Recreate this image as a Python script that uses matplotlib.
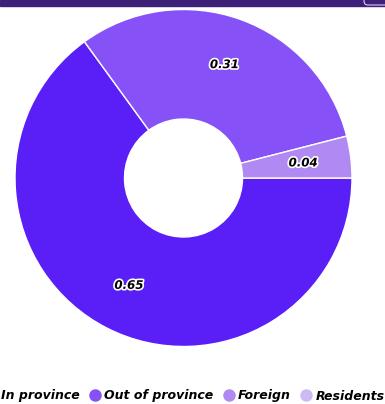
import numpy as np
import matplotlib.pyplot as plt
import matplotlib.patheffects as pe
from matplotlib.lines import Line2D
from matplotlib.patches import Rectangle, FancyBboxPatch

categories = ["In province", "Out of province", "Foreign", "Residents"]
shares = [0.65, 0.31, 0.04, 0.0]
colors = ["#5a1ff6", "#8652f7", "#b08af2", "#cdbaf5"]

W, H = 385, 404
fig = plt.figure(figsize=(W / 100, H / 100), dpi=100)

# top header strip
fig.patches.append(Rectangle((0, 1 - 6 / H), 1, 6 / H, transform=fig.transFigure,
                             color="#3d2178", zorder=0))
fig.patches.append(FancyBboxPatch((364 / W, 1 - 5 / H), 30 / W, 10 / H,
                                  boxstyle="round,pad=0,rounding_size=0.01",
                                  transform=fig.transFigure, facecolor="none",
                                  edgecolor="#d8cdf0", lw=0.8, zorder=1))

cx, cy, r = 183.5, 178, 168.5
ax = fig.add_axes([(cx - r) / W, (H - cy - r) / H, 2 * r / W, 2 * r / H])

vals = [v for v in shares if v > 0]
cols = [c for v, c in zip(shares, colors) if v > 0]
wedges, _ = ax.pie(vals, colors=cols, startangle=0, counterclock=False, radius=1,
                   wedgeprops=dict(width=1 - 59 / r, edgecolor="white", linewidth=1))

# value labels
start = 0.0
for v in vals:
    mid = np.deg2rad(-(start + v / 2) * 360)
    start += v
    ax.text(0.715 * np.cos(mid), 0.715 * np.sin(mid), f"{v:.2f}", ha="center", va="center",
            fontsize=8.5, fontweight="bold", fontstyle="italic", color="black",
            path_effects=[pe.withStroke(linewidth=2.4, foreground="white")])
ax.set_xlim(-1, 1)
ax.set_ylim(-1, 1)
ax.axis("off")

handles = [Line2D([], [], marker="o", linestyle="none", markersize=9,
                  markerfacecolor=c, markeredgecolor="none") for c in colors]
fig.legend(handles, categories, loc="center left", bbox_to_anchor=(-18 / W, 8 / H), ncol=4,
           frameon=False, handletextpad=0.35, columnspacing=0.8, handlelength=0.8,
           borderaxespad=0, borderpad=0.4,
           prop=dict(size=9, weight="bold", style="italic"))

fig.savefig("out.png", dpi=100)
